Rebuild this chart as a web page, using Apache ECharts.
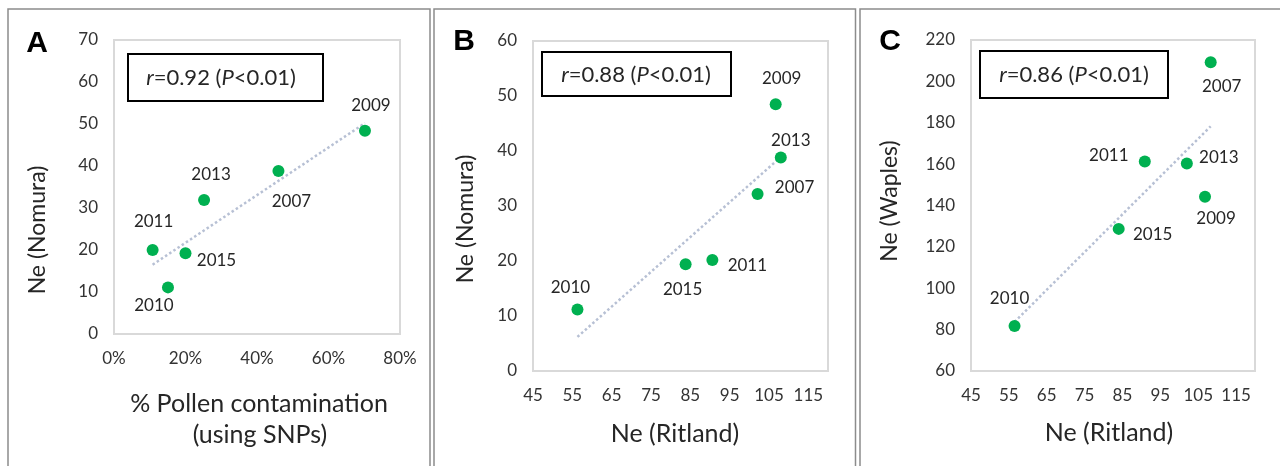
<!DOCTYPE html>
<html>
<head>
<meta charset="utf-8">
<script src="https://cdn.jsdelivr.net/npm/echarts@6.0.0/dist/echarts.min.js"></script>
<style>
html,body{margin:0;padding:0;background:#fff;}
#chart{width:1280px;height:466px;}
</style>
</head>
<body>
<div id="chart"></div>
<script>
// ---- Data ----
const yearsA = ['2011', '2010', '2015', '2013', '2007', '2009'];
const pollenA = [10.8, 15.1, 20.0, 25.2, 46.0, 70.2];      // % pollen contamination
const nomuraA = [20.0, 11.1, 19.2, 31.9, 38.8, 48.4];
const trendAx = [10.8, 70.2];
const trendAy = [16.5, 50.2];

const yearsB = ['2010', '2015', '2011', '2007', '2009', '2013'];
const ritlandB = [56.3, 83.8, 90.6, 102.1, 106.7, 108.0];
const nomuraB = [11.2, 19.4, 20.2, 32.2, 48.5, 38.8];
const trendBx = [56.3, 108.0];
const trendBy = [6.2, 38.9];

const yearsC = ['2010', '2015', '2011', '2013', '2009', '2007'];
const ritlandC = [56.5, 84.0, 90.9, 102.0, 106.8, 108.3];
const waplesC = [81.8, 128.7, 161.3, 160.3, 144.2, 209.2];
const trendCx = [56.5, 108.3];
const trendCy = [83.7, 178.3];

const statsText = ['0.92', '0.88', '0.86'];
const panelLetters = ['A', 'B', 'C'];

// ---- Styles ----
const FONT = 'Lato, "Open Sans", sans-serif';
const GREEN = '#00b050';
const TREND = '#b7c0d4';
const TEXT = '#262626';
const labelOffsetsA = [[1, -28], [-14, 18], [31, 7], [7, -26], [13, 30], [6, -25]];
const labelOffsetsB = [[-7, -22], [-3, 25], [35, 6], [37, -6], [6, -26], [10, -17]];
const labelOffsetsC = [[-5, -27], [34, 6], [-36, -6], [32, -6], [11, 22], [11, 24]];

function pts(xs, ys, years, offs) {
  return xs.map((x, i) => ({
    value: [x, ys[i]],
    name: years[i],
    label: { offset: offs[i] }
  }));
}
function line(xs, ys) { return xs.map((x, i) => [x, ys[i]]); }

const tickLabel = { color: '#333333', fontSize: 17, fontFamily: FONT, margin: 16 };

function valueAxis(idx, min, max, interval, extra) {
  return Object.assign({
    type: 'value', gridIndex: idx, min: min, max: max, interval: interval,
    axisLine: { show: false }, axisTick: { show: false }, splitLine: { show: false },
    axisLabel: Object.assign({}, tickLabel)
  }, extra || {});
}

const ritlandLabel = Object.assign({}, tickLabel, {
  showMaxLabel: false,
  formatter: v => ((v - 45) % 10 === 0 ? String(v) : '')
});

function scatter(idx, data) {
  return {
    type: 'scatter', xAxisIndex: idx, yAxisIndex: idx, data: data,
    symbol: 'circle', symbolSize: 12, itemStyle: { color: GREEN, opacity: 1 }, z: 3,
    label: {
      show: true, position: 'inside', formatter: p => p.name,
      color: TEXT, fontSize: 17, fontFamily: FONT
    },
    emphasis: { disabled: true }
  };
}
function trend(idx, data) {
  return {
    type: 'line', xAxisIndex: idx, yAxisIndex: idx, data: data,
    showSymbol: false, symbol: 'none', z: 2, silent: true,
    lineStyle: { color: TREND, width: 2.5, type: [2.5, 2.5] }
  };
}

const frameStyle = { stroke: '#8c8c8c', lineWidth: 1.5, fill: 'none' };
function frame(x, w) {
  return { type: 'rect', shape: { x: x, y: 9, width: w, height: 480 }, style: frameStyle, silent: true, z: 0 };
}
function txt(x, y, text, size, opts) {
  return Object.assign({
    type: 'text', x: x, y: y, z: 10, silent: true,
    style: Object.assign({
      text: text, fill: TEXT, font: size + 'px ' + FONT,
      align: 'center', verticalAlign: 'middle'
    }, (opts && opts.style) || {})
  }, (opts && opts.el) || {});
}
function statBox(x, y, w, h, i, cx, cy) {
  return [
    { type: 'rect', shape: { x: x, y: y, width: w, height: h }, style: { stroke: '#000', lineWidth: 2, fill: '#fff' }, z: 9, silent: true },
    {
      type: 'text', x: cx, y: cy, z: 10, silent: true,
      style: {
        text: '{i|r}=' + statsText[i] + ' ({i|P}<0.01)',
        fill: TEXT, font: '22px ' + FONT, align: 'center', verticalAlign: 'middle',
        rich: { i: { fontStyle: 'italic', fontSize: 22, fontFamily: FONT, fill: TEXT } }
      }
    }
  ];
}

const letterFont = 'bold 30px "Liberation Sans", Arial, sans-serif';
const graphic = [
  frame(8, 422), frame(434, 421.5), frame(860, 440),
  txt(37, 44, panelLetters[0], 30, { style: { font: letterFont, fill: '#000' } }),
  txt(464, 42, panelLetters[1], 30, { style: { font: letterFont, fill: '#000' } }),
  txt(890, 42, panelLetters[2], 30, { style: { font: letterFont, fill: '#000' } }),
  txt(38, 230, 'Ne (Nomura)', 23, { el: { rotation: Math.PI / 2 } }),
  txt(259, 404, '% Pollen contamination', 25),
  txt(260, 435, '(using SNPs)', 25),
  txt(466, 219, 'Ne (Nomura)', 23, { el: { rotation: Math.PI / 2 } }),
  txt(675, 434, 'Ne (Ritland)', 25),
  txt(890, 201, 'Ne (Waples)', 23, { el: { rotation: Math.PI / 2 } }),
  txt(1109, 433, 'Ne (Ritland)', 25)
].concat(
  statBox(128, 54, 195, 47, 0, 221, 78),
  statBox(542, 52, 189, 44, 1, 636, 75),
  statBox(980, 51, 188, 47, 2, 1074, 75)
);

const option = {
  animation: false,
  backgroundColor: '#fff',
  grid: [
    { left: 114, top: 40, width: 286, height: 294, show: true, borderColor: '#d9d9d9', borderWidth: 2 },
    { left: 533, top: 41, width: 295, height: 330, show: true, borderColor: '#d9d9d9', borderWidth: 2 },
    { left: 971, top: 40, width: 284, height: 331, show: true, borderColor: '#d9d9d9', borderWidth: 2 }
  ],
  xAxis: [
    valueAxis(0, 0, 80, 20, { axisLabel: Object.assign({}, tickLabel, { formatter: v => v + '%' }) }),
    valueAxis(1, 45, 120, 5, { axisLabel: ritlandLabel }),
    valueAxis(2, 45, 120, 5, { axisLabel: ritlandLabel })
  ],
  yAxis: [
    valueAxis(0, 0, 70, 10),
    valueAxis(1, 0, 60, 10),
    valueAxis(2, 60, 220, 20)
  ],
  series: [
    trend(0, line(trendAx, trendAy)),
    scatter(0, pts(pollenA, nomuraA, yearsA, labelOffsetsA)),
    trend(1, line(trendBx, trendBy)),
    scatter(1, pts(ritlandB, nomuraB, yearsB, labelOffsetsB)),
    trend(2, line(trendCx, trendCy)),
    scatter(2, pts(ritlandC, waplesC, yearsC, labelOffsetsC))
  ],
  graphic: graphic
};

const chart = echarts.init(document.getElementById('chart'), null, { renderer: 'canvas' });
chart.setOption(option);
</script>
</body>
</html>
